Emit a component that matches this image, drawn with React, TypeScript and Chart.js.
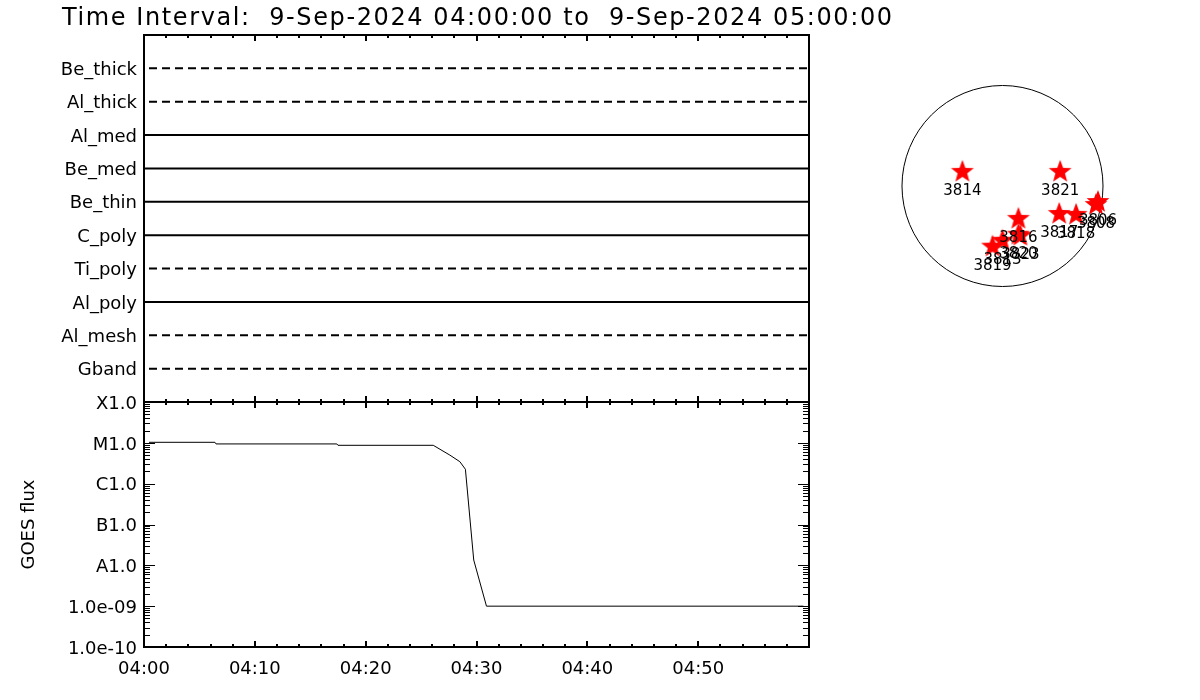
import React, { useEffect, useRef } from 'react';
import { Chart, registerables } from 'chart.js';

Chart.register(...registerables);

// ---------------- data ----------------
const TITLE_TEXT = 'Time Interval:  9-Sep-2024 04:00:00 to  9-Sep-2024 05:00:00';

const FILTER_NAMES = ['Be_thick', 'Al_thick', 'Al_med', 'Be_med', 'Be_thin', 'C_poly', 'Ti_poly', 'Al_poly', 'Al_mesh', 'Gband'];
const FILTER_DASHED = [true, true, false, false, false, false, true, false, true, true];
const FILTER_START_MIN = [0, 0, 0, 0, 0, 0, 0, 0, 0, 0];
const FILTER_END_MIN = [60, 60, 60, 60, 60, 60, 60, 60, 60, 60];

const TIME_TICK_MIN = [0, 10, 20, 30, 40, 50];
const TIME_TICK_LABELS = ['04:00', '04:10', '04:20', '04:30', '04:40', '04:50'];

const GOES_TIME_MIN = [0.45, 6.4, 6.5, 17.4, 17.5, 26.1, 27.6, 28.5, 29.0, 29.75, 30.9, 59.5];
const GOES_FLUX = [1.03e-5, 1.03e-5, 9.4e-6, 9.4e-6, 8.7e-6, 8.7e-6, 5.0e-6, 3.45e-6, 2.25e-6, 1.35e-8, 1.0e-9, 1.0e-9];

const GOES_TICK_VALUES = [1e-4, 1e-5, 1e-6, 1e-7, 1e-8, 1e-9, 1e-10];
const GOES_TICK_LABELS = ['X1.0', 'M1.0', 'C1.0', 'B1.0', 'A1.0', '1.0e-09', '1.0e-10'];

const AR_NUMBERS = ['3814', '3821', '3817', '3818', '3806', '3808', '3816', '3820', '3823', '3813', '3819'];
const AR_X_ARCSEC = [-383, 551, 542, 703, 912, 893, 152, 152, 171, 0, -95];
const AR_Y_ARCSEC = [145, 145, -257, -266, -143, -171, -304, -456, -466, -513, -570];
const SOLAR_RADIUS_ARCSEC = 960;

// ---------------- styles ----------------
const FONT_FAMILY = '"DejaVu Sans", "Liberation Sans", sans-serif';
const TICK_FONT = { family: FONT_FAMILY, size: 18, weight: 'normal' as const };

const zeroPad = (s: any) => {
  s.paddingTop = 0;
  s.paddingBottom = 0;
  s.paddingLeft = 0;
  s.paddingRight = 0;
};

const inwardTicks = (withLogY: boolean) => ({
  id: 'inwardTicks',
  afterDraw(chart: any) {
    const { ctx, chartArea } = chart;
    const { left, right, top, bottom } = chartArea;
    const xs = chart.scales.x;
    ctx.save();
    ctx.strokeStyle = '#000';
    ctx.lineWidth = 2;
    ctx.beginPath();
    for (let m = 0; m <= 60; m += 2) {
      const px = Math.round(xs.getPixelForValue(m));
      const len = m % 10 === 0 ? 6 : 3;
      ctx.moveTo(px, top);
      ctx.lineTo(px, top + len);
      ctx.moveTo(px, bottom);
      ctx.lineTo(px, bottom - len);
    }
    ctx.stroke();
    if (withLogY) {
      const ys = chart.scales.y;
      ctx.lineWidth = 1;
      ctx.beginPath();
      for (let e = -10; e <= -4; e++) {
        for (let k = 1; k <= 9; k++) {
          if (e === -4 && k > 1) break;
          const v = k * Math.pow(10, e);
          const py = Math.round(ys.getPixelForValue(v)) + 0.5;
          const len = k === 1 ? 11 : 6;
          ctx.moveTo(left, py);
          ctx.lineTo(left + len, py);
          ctx.moveTo(right, py);
          ctx.lineTo(right - len, py);
        }
      }
      ctx.stroke();
    }
    ctx.lineWidth = 2;
    ctx.strokeRect(left, top, right - left, bottom - top);
    ctx.restore();
  },
});

const titlePlugin = {
  id: 'titleText',
  afterDraw(chart: any) {
    const ctx = chart.ctx;
    ctx.save();
    ctx.fillStyle = '#000';
    ctx.font = `24px ${FONT_FAMILY}`;
    (ctx as any).letterSpacing = '1.6px';
    ctx.textAlign = 'left';
    ctx.textBaseline = 'alphabetic';
    ctx.fillText(TITLE_TEXT, 62, 25);
    ctx.restore();
  },
};

function makeStar(r: number, color: string): HTMLCanvasElement {
  const size = Math.ceil(r * 2) + 2;
  const c = document.createElement('canvas');
  c.width = size;
  c.height = size;
  const g = c.getContext('2d')!;
  g.fillStyle = color;
  g.beginPath();
  for (let k = 0; k < 10; k++) {
    const rad = k % 2 === 0 ? r : r * 0.42;
    const a = -Math.PI / 2 + (k * Math.PI) / 5;
    const px = size / 2 + rad * Math.cos(a);
    const py = size / 2 + 1 + rad * Math.sin(a);
    if (k === 0) g.moveTo(px, py);
    else g.lineTo(px, py);
  }
  g.closePath();
  g.fill();
  return c;
}

export default function App() {
  const topRef = useRef<HTMLCanvasElement>(null);
  const goesRef = useRef<HTMLCanvasElement>(null);
  const sunRef = useRef<HTMLCanvasElement>(null);

  useEffect(() => {
    const charts: Chart[] = [];

    // ---- top panel: filter timeline ----
    const nF = FILTER_NAMES.length;
    charts.push(
      new Chart(topRef.current!, {
        type: 'scatter',
        data: {
          datasets: FILTER_NAMES.map((name, i) => ({
            label: name,
            data: [
              { x: FILTER_START_MIN[i], y: nF - i },
              { x: FILTER_END_MIN[i], y: nF - i },
            ],
            showLine: true,
            borderColor: '#000',
            borderWidth: 2,
            borderDash: FILTER_DASHED[i] ? [8, 5] : [],
            borderDashOffset: FILTER_DASHED[i] ? -5 : 0,
            pointRadius: 0,
          })),
        },
        options: {
          responsive: false,
          animation: false,
          layout: { autoPadding: false, padding: { top: 35, right: 91, bottom: 8, left: 0 } },
          plugins: { legend: { display: false }, tooltip: { enabled: false }, title: { display: false } },
          scales: {
            x: { type: 'linear', min: 0, max: 60, display: false },
            y: {
              type: 'linear',
              min: 0,
              max: nF + 1,
              afterFit: (s: any) => { s.width = 144; zeroPad(s); },
              afterBuildTicks: (s: any) => { s.ticks = FILTER_NAMES.map((_, i) => ({ value: nF - i })); },
              ticks: {
                padding: 7,
                labelOffset: 2,
                color: '#000',
                font: TICK_FONT,
                autoSkip: false,
                callback: (v: any) => FILTER_NAMES[nF - Number(v)],
              },
              grid: { display: false, drawTicks: false },
              border: { display: false },
            },
          },
        } as any,
        plugins: [inwardTicks(false), titlePlugin],
      })
    );

    // ---- bottom panel: GOES flux ----
    charts.push(
      new Chart(goesRef.current!, {
        type: 'scatter',
        data: {
          datasets: [
            {
              label: 'GOES',
              data: GOES_TIME_MIN.map((t, i) => ({ x: t, y: GOES_FLUX[i] })),
              showLine: true,
              borderColor: '#000',
              borderWidth: 1,
              pointRadius: 0,
            },
          ],
        },
        options: {
          responsive: false,
          animation: false,
          layout: { autoPadding: false, padding: { top: 12, right: 21, bottom: 0, left: 0 } },
          plugins: { legend: { display: false }, tooltip: { enabled: false } },
          scales: {
            x: {
              type: 'linear',
              min: 0,
              max: 60,
              afterFit: (s: any) => { s.height = 53; zeroPad(s); },
              afterBuildTicks: (s: any) => { s.ticks = TIME_TICK_MIN.map((v) => ({ value: v })); },
              ticks: {
                autoSkip: false,
                maxRotation: 0,
                padding: 12,
                color: '#000',
                font: TICK_FONT,
                callback: (_v: any, idx: number) => TIME_TICK_LABELS[idx],
              },
              grid: { display: false, drawTicks: false },
              border: { display: false },
            },
            y: {
              type: 'logarithmic',
              min: 1e-10,
              max: 1e-4,
              afterFit: (s: any) => { s.width = 144; zeroPad(s); },
              afterBuildTicks: (s: any) => { s.ticks = GOES_TICK_VALUES.map((v) => ({ value: v })); },
              ticks: {
                autoSkip: false,
                padding: 7,
                labelOffset: 2,
                color: '#000',
                font: TICK_FONT,
                callback: (_v: any, idx: number) => GOES_TICK_LABELS[idx],
              },
              title: {
                display: true,
                text: 'GOES flux',
                color: '#000',
                font: TICK_FONT,
                padding: { top: 19, bottom: 0 },
              },
              grid: { display: false, drawTicks: false },
              border: { display: false },
            },
          },
        } as any,
        plugins: [inwardTicks(true)],
      })
    );

    // ---- sun disk with active regions ----
    const star = makeStar(12, '#ff0000');
    const limbPlugin = {
      id: 'limb',
      beforeDatasetsDraw(chart: any) {
        const { ctx } = chart;
        const xs = chart.scales.x;
        const ys = chart.scales.y;
        const cx = xs.getPixelForValue(0);
        const cy = ys.getPixelForValue(0);
        const r = xs.getPixelForValue(SOLAR_RADIUS_ARCSEC) - cx;
        ctx.save();
        ctx.strokeStyle = '#000';
        ctx.lineWidth = 1;
        ctx.beginPath();
        ctx.arc(cx, cy, r, 0, Math.PI * 2);
        ctx.stroke();
        ctx.restore();
      },
      afterDatasetsDraw(chart: any) {
        const { ctx } = chart;
        const meta = chart.getDatasetMeta(0);
        ctx.save();
        ctx.fillStyle = '#000';
        ctx.font = `15px ${FONT_FAMILY}`;
        ctx.textAlign = 'center';
        ctx.textBaseline = 'middle';
        meta.data.forEach((pt: any, i: number) => {
          ctx.fillText(AR_NUMBERS[i], pt.x, pt.y + 20);
        });
        ctx.restore();
      },
    };
    charts.push(
      new Chart(sunRef.current!, {
        type: 'scatter',
        data: {
          datasets: [
            {
              label: 'AR',
              data: AR_NUMBERS.map((_, i) => ({ x: AR_X_ARCSEC[i], y: AR_Y_ARCSEC[i] })),
              pointStyle: star as any,
              pointRadius: 12,
              showLine: false,
            },
          ],
        },
        options: {
          responsive: false,
          animation: false,
          layout: { autoPadding: false, padding: 0 },
          plugins: { legend: { display: false }, tooltip: { enabled: false } },
          scales: {
            x: { type: 'linear', min: -1237, max: 1237, display: false },
            y: { type: 'linear', min: -1242, max: 1242, display: false },
          },
        } as any,
        plugins: [limbPlugin],
      })
    );

    return () => charts.forEach((c) => c.destroy());
  }, []);

  return (
    <div style={{ position: 'fixed', left: 0, top: 0, width: 1200, height: 700, background: '#fff', overflow: 'hidden' }}>
      <canvas ref={topRef} width={900} height={410} style={{ position: 'absolute', left: 0, top: 0, width: 900, height: 410 }} />
      <canvas ref={goesRef} width={830} height={310} style={{ position: 'absolute', left: 0, top: 390, width: 830, height: 310 }} />
      <canvas ref={sunRef} width={259} height={260} style={{ position: 'absolute', left: 873, top: 56, width: 259, height: 260 }} />
    </div>
  );
}
